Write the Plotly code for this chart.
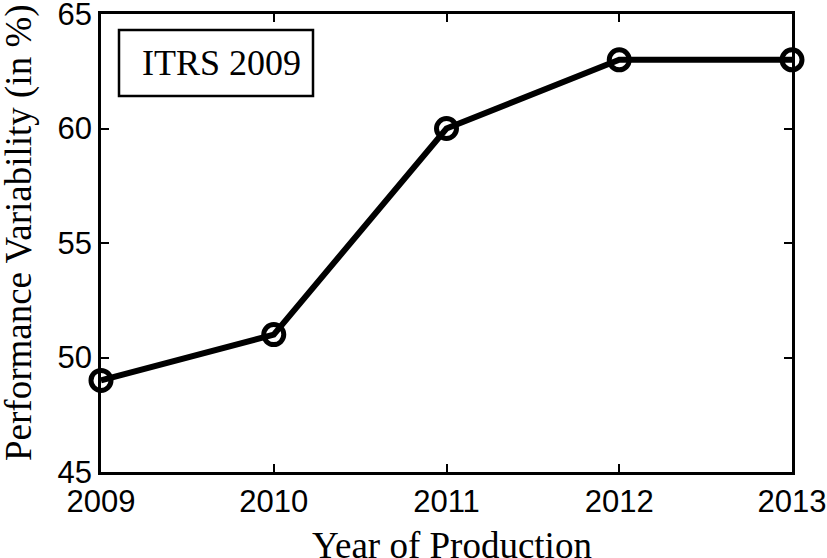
import plotly.graph_objects as go

years = [2009, 2010, 2011, 2012, 2013]
variability = [49, 51, 60, 63, 63]
x_ticks = [2009, 2010, 2011, 2012, 2013]
y_ticks = [45, 50, 55, 60, 65]
label = "ITRS 2009"
x_title = "Year of Production"
y_title = "Performance Variability (in %)"

fig = go.Figure()
fig.add_trace(go.Scatter(
    x=years, y=variability, mode="lines+markers",
    line=dict(color="black", width=6),
    marker=dict(symbol="circle-open", size=20, color="black", line=dict(width=5)),
    cliponaxis=False, showlegend=False, hoverinfo="skip",
))

L, R, T, B = 101, 35, 14, 86
W, H = 827, 558
pw = W - L - R
ph = H - T - B
def px(x):
    return (x - L) / pw
def py(y):
    return (H - B - y) / ph

fig.add_shape(type="rect", xref="paper", yref="paper",
              x0=px(119), x1=px(313), y0=py(96), y1=py(30),
              line=dict(color="black", width=2.5), fillcolor="white")
fig.add_annotation(xref="paper", yref="paper", x=px(221), y=py(63),
                   xanchor="center", yanchor="middle",
                   text=label, showarrow=False,
                   font=dict(family="Liberation Serif", size=36, color="black"))
fig.add_annotation(xref="paper", yref="paper", x=px(452), y=py(545),
                   xanchor="center", yanchor="middle",
                   text=x_title, showarrow=False,
                   font=dict(family="Liberation Serif", size=37, color="black"))
fig.add_annotation(xref="paper", yref="paper", x=px(19), y=py(233),
                   xanchor="center", yanchor="middle", textangle=-90,
                   text=y_title, showarrow=False,
                   font=dict(family="Liberation Serif", size=37, color="black"))

axis_common = dict(
    showgrid=False, zeroline=False, showline=True, linecolor="black", linewidth=2.5,
    mirror="ticks", ticks="inside", ticklen=8, tickwidth=1.5, tickcolor="black",
    tickfont=dict(family="Liberation Sans", size=31, color="black"),
    automargin=False, ticklabeloverflow="allow",
)
fig.update_xaxes(range=[2009, 2013], tickvals=x_ticks, ticktext=[str(v) for v in x_ticks],
                 ticklabelstandoff=0, **axis_common)
fig.update_yaxes(range=[45, 65], tickvals=y_ticks, ticktext=[str(v) for v in y_ticks],
                 ticklabelstandoff=0, **axis_common)
fig.update_layout(
    width=W, height=H, margin=dict(l=L, r=R, t=T, b=B),
    plot_bgcolor="white", paper_bgcolor="white",
)
fig.write_html("out.html", config={"displayModeBar": False},
               post_script="document.body.style.margin='0';")
